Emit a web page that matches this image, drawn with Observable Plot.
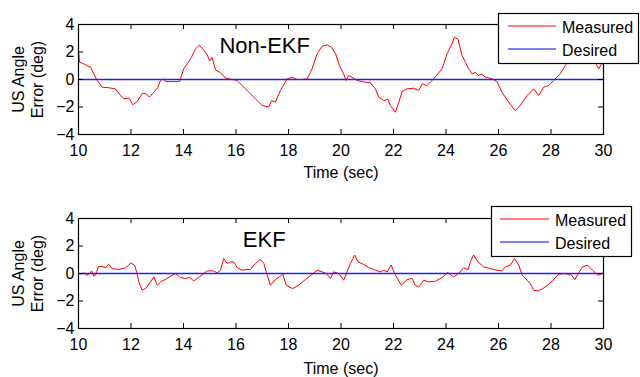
<!DOCTYPE html>
<html>
<head>
<meta charset="utf-8">
<script src="https://cdn.jsdelivr.net/npm/d3@7"></script>
<script src="https://cdn.jsdelivr.net/npm/@observablehq/plot@0.6"></script>
<style>
  body { margin: 0; background: #fff; }
  #wrap { position: relative; width: 640px; height: 377px; font-family: "Liberation Sans", Arial, sans-serif; background: #fff; overflow: hidden; }
  #wrap > svg.plot { display: block; }
  #legend { position: absolute; left: 0; top: 0; }
</style>
</head>
<body>
<div id="wrap"></div>
<script>
// ---- data ----
const xTicks = [10, 12, 14, 16, 18, 20, 22, 24, 26, 28, 30];
const yTicks = [-4, -2, 0, 2, 4];
const seriesNames = ["Measured", "Desired"];
const panelTitles = ["Non-EKF", "EKF"];
const xLabel = "Time (sec)";
const yLabelLines = ["US Angle", "Error (deg)"];

const desiredTime = [10, 30];
const desiredValue = [0, 0];

const nonEkfTime = [10.00, 10.04, 10.2, 10.33, 10.46, 10.58, 10.71, 10.9, 11.15, 11.41, 11.6, 11.73, 11.92, 12.07, 12.24, 12.43, 12.58, 12.7, 12.87, 13.03, 13.12, 13.25, 13.31, 13.57, 13.85, 14.01, 14.27, 14.46, 14.6, 14.75, 14.9, 15.0, 15.09, 15.22, 15.41, 15.6, 15.85, 16.04, 16.3, 16.55, 16.74, 17.0, 17.25, 17.35, 17.5, 17.69, 17.95, 18.14, 18.33, 18.52, 18.71, 18.9, 19.09, 19.28, 19.47, 19.63, 19.79, 19.94, 20.1, 20.19, 20.29, 20.42, 20.61, 20.93, 21.12, 21.31, 21.44, 21.63, 21.79, 21.88, 22.07, 22.2, 22.33, 22.52, 22.77, 22.96, 23.09, 23.28, 23.47, 23.66, 23.85, 24.04, 24.23, 24.32, 24.46, 24.61, 24.74, 24.86, 24.99, 25.12, 25.24, 25.35, 25.5, 25.75, 25.94, 26.13, 26.39, 26.64, 26.83, 27.09, 27.34, 27.53, 27.72, 27.91, 28.1, 28.35, 28.55, 28.75, 28.95, 29.15, 29.35, 29.5, 29.69, 29.82, 30.0];
const nonEkfMeasured = [2.1, 1.26, 1.14, 1.0, 0.9, 0.41, -0.07, -0.56, -0.6, -0.68, -1.16, -1.4, -1.36, -1.84, -1.6, -1.0, -1.04, -1.28, -0.92, -0.56, -0.07, 0.05, -0.15, -0.15, -0.15, 0.78, 1.5, 2.23, 2.5, 2.18, 1.8, 1.35, 1.6, 0.7, 0.5, 0.1, 0.0, -0.07, -0.56, -1.04, -1.4, -1.89, -2.0, -1.53, -1.65, -0.8, 0.05, 0.17, 0.0, 0.0, 0.05, 0.78, 1.87, 2.42, 2.52, 2.35, 1.9, 1.02, 0.41, -0.07, 0.29, 0.17, -0.07, -0.2, -0.24, -0.68, -1.29, -1.53, -1.45, -1.89, -2.38, -1.65, -0.87, -0.68, -0.63, -0.8, -0.31, -0.44, -0.07, 0.34, 0.78, 1.87, 2.6, 3.08, 2.91, 1.75, 1.26, 0.78, 0.41, 0.53, 0.29, 0.41, 0.17, 0.05, -0.15, -0.92, -1.65, -2.25, -1.89, -1.16, -0.68, -1.16, -0.56, -0.44, -0.07, 0.41, 1.02, 1.8, 2.2, 2.0, 1.5, 1.26, 1.2, 0.78, 1.38];

const ekfTime = [10.0, 10.08, 10.2, 10.33, 10.42, 10.5, 10.58, 10.65, 10.75, 10.9, 11.03, 11.15, 11.28, 11.53, 11.79, 12.0, 12.14, 12.23, 12.3, 12.42, 12.58, 12.74, 12.87, 13.0, 13.16, 13.31, 13.5, 13.69, 13.88, 14.07, 14.24, 14.39, 14.58, 14.77, 14.9, 15.03, 15.15, 15.28, 15.41, 15.53, 15.66, 15.79, 15.91, 16.04, 16.23, 16.42, 16.55, 16.74, 16.93, 17.06, 17.19, 17.31, 17.5, 17.69, 17.78, 17.91, 18.16, 18.39, 18.64, 18.9, 19.09, 19.28, 19.43, 19.6, 19.72, 19.85, 19.97, 20.1, 20.23, 20.36, 20.52, 20.65, 20.86, 21.05, 21.31, 21.5, 21.63, 21.76, 21.91, 22.07, 22.3, 22.52, 22.71, 22.83, 22.96, 23.15, 23.34, 23.6, 23.85, 24.06, 24.29, 24.48, 24.67, 24.84, 24.93, 25.05, 25.22, 25.43, 25.69, 25.94, 26.13, 26.26, 26.45, 26.61, 26.77, 26.9, 27.09, 27.21, 27.34, 27.51, 27.69, 27.9, 28.07, 28.3, 28.55, 28.78, 28.91, 29.04, 29.2, 29.39, 29.58, 29.77, 29.89, 30.0];
const ekfMeasured = [0.04, -0.05, 0.04, -0.12, 0.0, 0.19, -0.19, -0.12, 0.48, 0.53, 0.41, 0.68, 0.36, 0.29, 0.41, 0.77, 0.6, 0.0, -0.61, -1.22, -1.05, -0.61, -0.25, -0.85, -0.56, -0.44, -0.2, 0.0, -0.29, -0.36, -0.29, -0.54, -0.29, 0.0, 0.19, 0.19, 0.19, 0.04, 0.24, 1.09, 0.73, 0.85, 0.85, 0.44, 0.24, 0.29, 0.29, 0.73, 1.02, 0.73, -0.12, -0.85, -0.44, -0.2, -0.03, -0.85, -1.1, -0.85, -0.44, -0.07, 0.24, 0.12, 0.0, -0.36, 0.12, 0.04, -0.12, -0.49, 0.12, 0.73, 1.34, 0.85, 0.66, 0.44, 0.24, 0.12, 0.24, 0.12, 0.61, -0.12, -0.85, -0.44, -0.36, -0.85, -0.98, -0.49, -0.61, -0.56, -0.29, 0.07, -0.25, 0.0, 0.41, 0.29, 0.85, 1.34, 0.85, 0.48, 0.36, 0.24, 0.19, 0.48, 0.61, 1.09, 0.61, -0.12, -0.49, -0.73, -1.22, -1.27, -1.1, -0.8, -0.49, -0.05, 0.0, -0.12, -0.44, 0.0, 0.48, 0.61, 0.24, -0.12, -0.07, 0.05];

// ---- layout ----
const FONT = "Liberation Sans, Arial, sans-serif";
const panels = [
  {time: nonEkfTime, values: nonEkfMeasured, title: panelTitles[0], titleAt: [15.37, 2.45], height: 188, marginTop: 24, marginBottom: 54, xLabelDy: 38},
  {time: ekfTime, values: ekfMeasured, title: panelTitles[1], titleAt: [16.26, 2.47], height: 189, marginTop: 30, marginBottom: 49, xLabelDy: 40}
];

function makePanel(p) {
  const measured = p.time.map((t, i) => ({t, v: p.values[i]}));
  const desired = desiredTime.map((t, i) => ({t, v: desiredValue[i]}));
  const plotW = 640 - 78 - 37, plotH = p.height - p.marginTop - p.marginBottom;
  const tx = 20 * 5 / plotW; // inward tick length (x units)
  const ty = 8 * 5 / plotH;  // inward tick length (y units)
  return Plot.plot({
    width: 640,
    height: p.height,
    marginLeft: 78,
    marginRight: 37,
    marginTop: p.marginTop,
    marginBottom: p.marginBottom,
    x: {domain: [10, 30]},
    y: {domain: [-4, 4]},
    style: {fontFamily: FONT, fontSize: "16px", color: "#000", background: "#fff", overflow: "visible"},
    marks: [
      Plot.line(measured, {x: "t", y: "v", stroke: "#ff0000", strokeWidth: 1}),
      Plot.line(desired, {x: "t", y: "v", stroke: "#1f1fff", strokeWidth: 1.5}),
      Plot.ruleX(xTicks, {x: d => d, y1: -4, y2: -4 + ty, stroke: "#000"}),
      Plot.ruleX(xTicks, {x: d => d, y1: 4, y2: 4 - ty, stroke: "#000"}),
      Plot.ruleY(yTicks, {y: d => d, x1: 10, x2: 10 + tx, stroke: "#000"}),
      Plot.ruleY(yTicks, {y: d => d, x1: 30, x2: 30 - tx, stroke: "#000"}),
      Plot.frame({stroke: "#000", strokeWidth: 1.2}),
      Plot.axisX({ticks: xTicks, tickSize: 0, tickPadding: 10.4, label: null, tickFormat: d3.format("d"), fontSize: 16}),
      Plot.axisY({ticks: yTicks, tickSize: 0, tickPadding: 4, label: null, fontSize: 16}),
      Plot.text([p.title], {x: () => p.titleAt[0], y: () => p.titleAt[1], text: d => d, textAnchor: "start", lineAnchor: "middle", fontSize: 22, fill: "#000"}),
      Plot.text([xLabel], {frameAnchor: "bottom", text: d => d, dy: p.xLabelDy, textAnchor: "middle", lineAnchor: "middle", fontSize: 16, fill: "#000"}),
      Plot.text([yLabelLines[0]], {frameAnchor: "left", text: d => d, dx: -60, rotate: -90, textAnchor: "middle", lineAnchor: "middle", fontSize: 16, fill: "#000"}),
      Plot.text([yLabelLines[1]], {frameAnchor: "left", text: d => d, dx: -41, rotate: -90, textAnchor: "middle", lineAnchor: "middle", fontSize: 16, fill: "#000"})
    ]
  });
}

const wrap = document.getElementById("wrap");
panels.forEach(p => {
  const svg = makePanel(p);
  svg.classList.add("plot");
  wrap.appendChild(svg);
});

// ---- legends (overlay) ----
const legends = [
  {box: [498.5, 13.5, 140, 50], lineX: [508, 556], lineY: [26, 49], textX: 562, baseY: [32.5, 55.7]},
  {box: [491.5, 206.5, 140, 50], lineX: [500, 549], lineY: [219, 242], textX: 555, baseY: [225.8, 248.7]}
];
const legendColors = ["#ff0000", "#0000ff"];
const ns = "http://www.w3.org/2000/svg";
const lsvg = d3.select(wrap).append("svg").attr("id", "legend").attr("width", 640).attr("height", 377)
  .attr("xmlns", ns).style("pointer-events", "none");
legends.forEach(L => {
  const g = lsvg.append("g");
  g.append("rect").attr("x", L.box[0]).attr("y", L.box[1]).attr("width", L.box[2]).attr("height", L.box[3])
    .attr("fill", "#fff").attr("stroke", "#000").attr("stroke-width", 1.2);
  seriesNames.forEach((name, i) => {
    g.append("line").attr("x1", L.lineX[0]).attr("x2", L.lineX[1]).attr("y1", L.lineY[i]).attr("y2", L.lineY[i])
      .attr("stroke", legendColors[i]).attr("stroke-width", 1);
    g.append("text").attr("x", L.textX).attr("y", L.baseY[i]).attr("font-family", FONT).attr("font-size", 16)
      .attr("fill", "#000").text(name);
  });
});
</script>
</body>
</html>
